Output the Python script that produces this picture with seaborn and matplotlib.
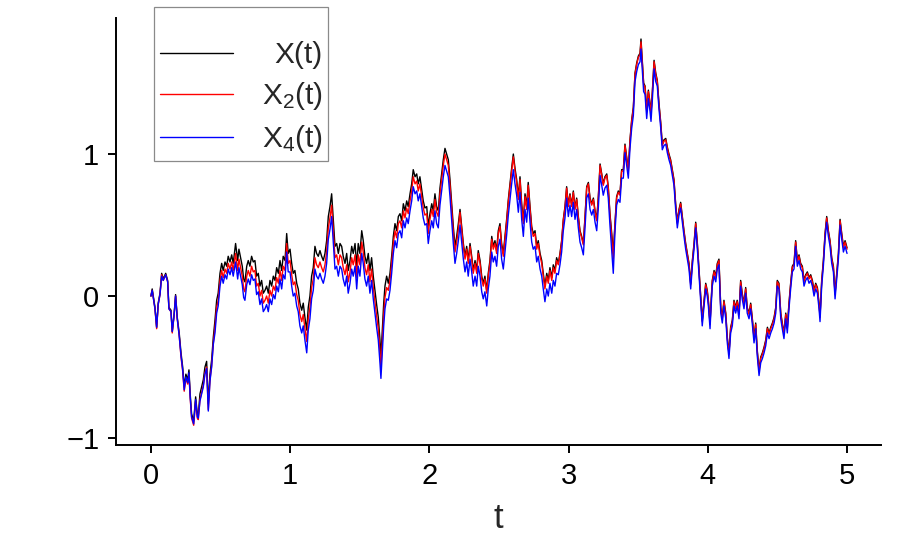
import matplotlib
matplotlib.use("Agg")
import matplotlib.pyplot as plt
import pandas as pd
import seaborn as sns

# ---------------- data ----------------
t = [
    0.000, 0.009, 0.029, 0.041, 0.052, 0.065, 0.077, 0.088, 0.106, 0.120, 0.129, 0.144, 0.153, 0.167, 0.177, 0.189,
    0.203, 0.216, 0.228, 0.239, 0.251, 0.264, 0.273, 0.282, 0.292, 0.307, 0.321, 0.333, 0.340, 0.352, 0.364, 0.376,
    0.388, 0.400, 0.412, 0.424, 0.436, 0.448,
    0.460, 0.472, 0.483, 0.496, 0.508, 0.519, 0.532, 0.544, 0.555, 0.568, 0.580, 0.591,
    0.608, 0.623, 0.632, 0.644, 0.656, 0.666, 0.675, 0.688, 0.699, 0.711, 0.723, 0.735, 0.747, 0.759, 0.771, 0.783,
    0.795, 0.807, 0.819, 0.831, 0.843, 0.855, 0.867, 0.879, 0.891, 0.903, 0.915, 0.927, 0.939, 0.950, 0.963, 0.975, 0.986,
    0.999, 1.011, 1.022, 1.034, 1.047, 1.058, 1.070, 1.083, 1.094, 1.106, 1.119, 1.130, 1.142, 1.154, 1.166, 1.178,
    1.190, 1.202, 1.214, 1.226, 1.238, 1.250, 1.262, 1.274, 1.286,
    1.298, 1.310, 1.322, 1.334, 1.346, 1.358, 1.370, 1.381, 1.394, 1.406, 1.417, 1.430, 1.442, 1.453, 1.466, 1.478,
    1.489, 1.501, 1.514, 1.525, 1.537, 1.549, 1.561, 1.573, 1.585, 1.597, 1.609, 1.621, 1.633, 1.645, 1.652, 1.662,
    1.672, 1.681, 1.693,
    1.705, 1.717, 1.729, 1.741, 1.753, 1.765, 1.777, 1.789, 1.801, 1.813, 1.825, 1.837, 1.848, 1.861, 1.873, 1.884,
    1.897, 1.909, 1.920, 1.932, 1.945, 1.956, 1.968, 1.981, 1.992,
    2.004, 2.017, 2.028, 2.040, 2.052, 2.064, 2.076, 2.088, 2.100, 2.112, 2.124, 2.136, 2.148, 2.160, 2.172, 2.184,
    2.196, 2.208,
    2.220, 2.232, 2.244, 2.256, 2.268, 2.279, 2.292, 2.304, 2.315, 2.328, 2.340, 2.351, 2.364, 2.376, 2.387, 2.399,
    2.412, 2.423, 2.435, 2.448, 2.459, 2.471, 2.483, 2.495, 2.507, 2.519, 2.531, 2.543, 2.555, 2.567, 2.579, 2.591,
    2.603, 2.615, 2.627, 2.639, 2.651, 2.663, 2.675, 2.687, 2.699, 2.710, 2.723, 2.735, 2.746, 2.759, 2.771, 2.782,
    2.795, 2.807, 2.818, 2.830, 2.843, 2.854, 2.866, 2.879, 2.890, 2.902, 2.914,
    2.926, 2.938, 2.950, 2.962, 2.974, 2.986, 2.998, 3.010, 3.022, 3.034, 3.046, 3.058, 3.070, 3.082, 3.094, 3.106,
    3.118, 3.130, 3.142, 3.154, 3.166, 3.178, 3.190, 3.202, 3.213, 3.226, 3.238, 3.249, 3.261, 3.274, 3.285, 3.297,
    3.310, 3.321,
    3.333, 3.345, 3.357, 3.369, 3.381, 3.393, 3.405, 3.417, 3.429, 3.441, 3.453, 3.465, 3.477, 3.489, 3.501, 3.513,
    3.520, 3.530, 3.539, 3.549, 3.561, 3.573, 3.585, 3.592, 3.601, 3.614, 3.626,
    3.637, 3.649, 3.662, 3.673, 3.685, 3.698, 3.709, 3.721, 3.733, 3.745, 3.757, 3.769, 3.781, 3.793, 3.805, 3.817,
    3.829, 3.841, 3.853, 3.865, 3.877, 3.889, 3.901, 3.913, 3.925, 3.937, 3.949, 3.960, 3.973, 3.985, 3.996, 4.004,
    4.016, 4.023, 4.032, 4.045, 4.057, 4.068, 4.080, 4.093, 4.104, 4.116, 4.129, 4.140, 4.152, 4.164, 4.176, 4.188,
    4.200, 4.211, 4.224, 4.236, 4.247, 4.260, 4.272, 4.283, 4.296, 4.308, 4.319, 4.332, 4.344, 4.355, 4.368, 4.380,
    4.392, 4.404, 4.416, 4.428, 4.440, 4.452, 4.464, 4.476, 4.488, 4.499, 4.511, 4.524, 4.535, 4.547, 4.560, 4.571,
    4.583, 4.595, 4.607, 4.619, 4.631, 4.643, 4.655, 4.667, 4.679, 4.691, 4.703, 4.715, 4.727, 4.739, 4.751, 4.763,
    4.775, 4.787, 4.799, 4.806, 4.818, 4.830, 4.842, 4.854, 4.866, 4.878, 4.890, 4.902, 4.914, 4.926, 4.938, 4.950,
    4.962, 4.974, 4.986, 5.000,
]

x = [
    0.00, 0.05, -0.08, -0.22, -0.05, 0.02, 0.16, 0.12, 0.16, 0.11, -0.08, -0.10, -0.25, -0.12, 0.01, -0.15,
    -0.26, -0.40, -0.50, -0.64, -0.55, -0.59, -0.52, -0.69, -0.83, -0.88, -0.71, -0.83, -0.84, -0.69, -0.64, -0.59,
    -0.50, -0.46, -0.76, -0.55, -0.45, -0.29,
    -0.17, -0.03, 0.02, 0.16, 0.23, 0.18, 0.24, 0.21, 0.28, 0.24, 0.29, 0.23,
    0.37, 0.25, 0.33, 0.27, 0.21, 0.12, 0.10, 0.21, 0.25, 0.21, 0.28, 0.24, 0.25, 0.14, 0.16, 0.07,
    0.11, 0.02, 0.04, 0.07, 0.02, 0.11, 0.07, 0.14, 0.11, 0.20, 0.16, 0.25, 0.18, 0.28, 0.25, 0.44, 0.30,
    0.33, 0.23, 0.16, 0.18, 0.09, 0.05, -0.05, -0.10, -0.05, -0.15, -0.24, -0.08, 0.00, 0.14, 0.20, 0.35,
    0.30, 0.28, 0.32, 0.28, 0.25, 0.30, 0.39, 0.56, 0.63,
    0.72, 0.53, 0.35, 0.37, 0.30, 0.37, 0.35, 0.28, 0.23, 0.30, 0.18, 0.25, 0.35, 0.30, 0.37, 0.21,
    0.37, 0.30, 0.46, 0.39, 0.28, 0.23, 0.30, 0.18, 0.27, 0.14, 0.04, -0.06, -0.15, -0.31, -0.43, -0.24,
    -0.05, 0.07, 0.14,
    0.09, 0.16, 0.28, 0.42, 0.51, 0.46, 0.56, 0.58, 0.53, 0.65, 0.60, 0.67, 0.63, 0.72, 0.79, 0.89,
    0.84, 0.86, 0.79, 0.84, 0.75, 0.67, 0.62, 0.63, 0.49,
    0.58, 0.65, 0.60, 0.72, 0.63, 0.60, 0.76, 0.86, 0.96, 1.04, 1.00, 0.96, 0.82, 0.65, 0.49, 0.35,
    0.42, 0.51,
    0.61, 0.49, 0.37, 0.28, 0.35, 0.25, 0.37, 0.28, 0.18, 0.25, 0.18, 0.32, 0.25, 0.14, 0.09, 0.14,
    0.04, 0.16, 0.25, 0.42, 0.35, 0.39, 0.32, 0.46, 0.51, 0.37, 0.30, 0.42, 0.54, 0.68, 0.79, 0.90,
    1.00, 0.90, 0.82, 0.70, 0.84, 0.65, 0.53, 0.72, 0.63, 0.80, 0.63, 0.49, 0.44, 0.46, 0.35, 0.39,
    0.30, 0.25, 0.16, 0.07, 0.16, 0.11, 0.20, 0.13, 0.22, 0.18, 0.27,
    0.23, 0.30, 0.39, 0.54, 0.63, 0.77, 0.64, 0.72, 0.64, 0.74, 0.62, 0.69, 0.56, 0.46, 0.42, 0.37,
    0.56, 0.77, 0.80, 0.69, 0.65, 0.69, 0.60, 0.54, 0.69, 0.93, 0.86, 0.79, 0.84, 0.86, 0.77, 0.58,
    0.44, 0.30,
    0.51, 0.70, 0.74, 0.72, 0.89, 0.89, 1.07, 0.98, 0.89, 1.10, 1.24, 1.33, 1.57, 1.64, 1.69, 1.71,
    1.81, 1.64, 1.50, 1.48, 1.31, 1.45, 1.36, 1.29, 1.43, 1.66, 1.57,
    1.52, 1.36, 1.22, 1.07, 1.10, 1.11, 1.05, 1.00, 0.96, 0.89, 0.82, 0.65, 0.52, 0.61, 0.66, 0.56,
    0.46, 0.37, 0.30, 0.23, 0.09, 0.25, 0.37, 0.52, 0.37, 0.18, 0.00, -0.17, -0.03, 0.09, 0.04, -0.03,
    -0.19, -0.05, 0.11, 0.18, 0.14, 0.23, 0.26, -0.08, -0.15, -0.03, -0.12, -0.29, -0.40, -0.22, -0.17, -0.03,
    -0.08, -0.03, -0.12, 0.11, 0.02, -0.05, 0.06, -0.08, -0.12, -0.05, -0.15, -0.29, -0.19, -0.38, -0.52, -0.43,
    -0.40, -0.36, -0.31, -0.22, -0.26, -0.22, -0.19, -0.15, -0.08, 0.11, 0.09, -0.12, -0.19, -0.26, -0.12, -0.22,
    -0.05, 0.09, 0.21, 0.23, 0.39, 0.25, 0.29, 0.23, 0.21, 0.11, 0.15, 0.17, 0.13, 0.15, 0.11, 0.04,
    0.09, 0.06, -0.05, -0.14, 0.11, 0.25, 0.44, 0.56, 0.46, 0.39, 0.27, 0.21, 0.02, 0.16, 0.30, 0.54,
    0.44, 0.35, 0.39, 0.34,
]

x2 = [
    0.00, 0.04, -0.09, -0.23, -0.06, 0.01, 0.15, 0.11, 0.15, 0.10, -0.09, -0.11, -0.26, -0.13, 0.00, -0.16,
    -0.28, -0.43, -0.53, -0.67, -0.58, -0.62, -0.55, -0.72, -0.86, -0.91, -0.74, -0.86, -0.87, -0.73, -0.68, -0.63,
    -0.54, -0.50, -0.80, -0.59, -0.49, -0.33,
    -0.22, -0.08, -0.03, 0.11, 0.18, 0.13, 0.19, 0.16, 0.23, 0.19, 0.24, 0.18,
    0.30, 0.18, 0.26, 0.20, 0.14, 0.05, 0.03, 0.14, 0.18, 0.14, 0.21, 0.17, 0.18, 0.07, 0.09, 0.00,
    0.04, -0.05, -0.03, 0.00, -0.05, 0.04, 0.00, 0.07, 0.04, 0.13, 0.09, 0.18, 0.11, 0.21, 0.18, 0.37, 0.23,
    0.25, 0.15, 0.08, 0.10, 0.01, -0.03, -0.13, -0.18, -0.13, -0.23, -0.32, -0.16, -0.08, 0.06, 0.12, 0.27,
    0.22, 0.20, 0.24, 0.20, 0.17, 0.22, 0.31, 0.48, 0.55,
    0.64, 0.45, 0.27, 0.29, 0.22, 0.29, 0.27, 0.20, 0.15, 0.22, 0.10, 0.17, 0.27, 0.22, 0.29, 0.13,
    0.29, 0.22, 0.38, 0.31, 0.20, 0.15, 0.22, 0.10, 0.19, 0.06, -0.04, -0.14, -0.23, -0.39, -0.51, -0.32,
    -0.13, -0.01, 0.06,
    0.04, 0.11, 0.23, 0.37, 0.46, 0.41, 0.51, 0.53, 0.48, 0.60, 0.55, 0.62, 0.58, 0.67, 0.74, 0.84,
    0.79, 0.81, 0.74, 0.79, 0.70, 0.62, 0.57, 0.58, 0.44,
    0.54, 0.61, 0.56, 0.68, 0.59, 0.56, 0.72, 0.82, 0.92, 1.00, 0.96, 0.92, 0.78, 0.61, 0.45, 0.31,
    0.38, 0.47,
    0.59, 0.47, 0.35, 0.26, 0.33, 0.23, 0.35, 0.26, 0.16, 0.23, 0.16, 0.30, 0.23, 0.12, 0.07, 0.12,
    0.02, 0.14, 0.23, 0.40, 0.33, 0.37, 0.30, 0.44, 0.49, 0.35, 0.28, 0.40, 0.52, 0.66, 0.77, 0.88,
    0.98, 0.88, 0.80, 0.68, 0.82, 0.63, 0.51, 0.70, 0.61, 0.78, 0.61, 0.47, 0.42, 0.44, 0.33, 0.37,
    0.28, 0.23, 0.14, 0.05, 0.14, 0.09, 0.18, 0.11, 0.20, 0.16, 0.25,
    0.22, 0.29, 0.38, 0.53, 0.62, 0.76, 0.63, 0.71, 0.63, 0.73, 0.61, 0.68, 0.55, 0.45, 0.41, 0.36,
    0.55, 0.76, 0.79, 0.68, 0.64, 0.68, 0.59, 0.53, 0.68, 0.92, 0.85, 0.78, 0.83, 0.85, 0.76, 0.57,
    0.41, 0.26,
    0.50, 0.69, 0.73, 0.71, 0.88, 0.88, 1.06, 0.97, 0.88, 1.09, 1.23, 1.32, 1.56, 1.63, 1.68, 1.70,
    1.79, 1.63, 1.49, 1.47, 1.30, 1.44, 1.35, 1.28, 1.42, 1.65, 1.56,
    1.51, 1.35, 1.21, 1.06, 1.09, 1.10, 1.04, 0.99, 0.95, 0.88, 0.81, 0.64, 0.51, 0.60, 0.65, 0.55,
    0.45, 0.36, 0.29, 0.22, 0.08, 0.24, 0.36, 0.51, 0.36, 0.17, -0.01, -0.18, -0.04, 0.08, 0.03, -0.04,
    -0.20, -0.06, 0.10, 0.17, 0.13, 0.22, 0.25, -0.09, -0.16, -0.04, -0.13, -0.30, -0.41, -0.23, -0.18, -0.04,
    -0.09, -0.04, -0.13, 0.10, 0.01, -0.06, 0.05, -0.09, -0.13, -0.06, -0.16, -0.30, -0.20, -0.39, -0.53, -0.44,
    -0.41, -0.37, -0.32, -0.23, -0.27, -0.23, -0.20, -0.16, -0.09, 0.10, 0.08, -0.13, -0.20, -0.27, -0.13, -0.23,
    -0.06, 0.08, 0.20, 0.22, 0.38, 0.24, 0.28, 0.22, 0.20, 0.10, 0.14, 0.16, 0.12, 0.14, 0.10, 0.03,
    0.08, 0.05, -0.06, -0.15, 0.10, 0.24, 0.43, 0.55, 0.45, 0.38, 0.26, 0.20, 0.01, 0.15, 0.29, 0.53,
    0.43, 0.34, 0.38, 0.33,
]

x4 = [
    0.00, 0.04, -0.09, -0.22, -0.06, 0.01, 0.14, 0.11, 0.15, 0.10, -0.09, -0.11, -0.25, -0.13, 0.00, -0.16,
    -0.28, -0.42, -0.52, -0.66, -0.57, -0.61, -0.54, -0.71, -0.85, -0.90, -0.73, -0.85, -0.86, -0.74, -0.69, -0.64,
    -0.55, -0.51, -0.81, -0.60, -0.50, -0.34,
    -0.26, -0.12, -0.07, 0.07, 0.14, 0.09, 0.15, 0.12, 0.19, 0.15, 0.20, 0.14,
    0.24, 0.12, 0.20, 0.14, 0.08, -0.01, -0.03, 0.08, 0.12, 0.08, 0.15, 0.11, 0.12, 0.01, 0.03, -0.06,
    -0.02, -0.11, -0.09, -0.06, -0.11, -0.02, -0.06, 0.01, -0.02, 0.07, 0.03, 0.12, 0.05, 0.15, 0.12, 0.31, 0.17,
    0.17, 0.07, 0.00, 0.02, -0.07, -0.11, -0.21, -0.26, -0.21, -0.31, -0.40, -0.24, -0.16, -0.02, 0.04, 0.19,
    0.14, 0.12, 0.16, 0.12, 0.09, 0.14, 0.23, 0.40, 0.47,
    0.56, 0.37, 0.19, 0.21, 0.14, 0.21, 0.19, 0.12, 0.07, 0.14, 0.02, 0.09, 0.19, 0.14, 0.21, 0.05,
    0.21, 0.14, 0.30, 0.23, 0.12, 0.07, 0.14, 0.02, 0.11, -0.02, -0.12, -0.22, -0.31, -0.47, -0.58, -0.40,
    -0.21, -0.09, -0.02,
    -0.03, 0.04, 0.16, 0.30, 0.39, 0.34, 0.44, 0.46, 0.41, 0.53, 0.48, 0.55, 0.51, 0.60, 0.67, 0.77,
    0.72, 0.74, 0.67, 0.72, 0.63, 0.55, 0.50, 0.51, 0.37,
    0.46, 0.53, 0.48, 0.60, 0.51, 0.48, 0.64, 0.74, 0.84, 0.92, 0.88, 0.84, 0.70, 0.53, 0.37, 0.23,
    0.30, 0.39,
    0.50, 0.38, 0.26, 0.17, 0.24, 0.14, 0.26, 0.17, 0.07, 0.14, 0.07, 0.21, 0.14, 0.03, -0.02, 0.03,
    -0.07, 0.05, 0.14, 0.31, 0.24, 0.28, 0.21, 0.35, 0.40, 0.26, 0.19, 0.31, 0.43, 0.57, 0.68, 0.79,
    0.89, 0.79, 0.71, 0.59, 0.73, 0.54, 0.42, 0.61, 0.52, 0.69, 0.52, 0.38, 0.33, 0.35, 0.24, 0.28,
    0.19, 0.14, 0.05, -0.04, 0.05, 0.00, 0.09, 0.02, 0.11, 0.07, 0.16,
    0.15, 0.22, 0.31, 0.46, 0.55, 0.69, 0.56, 0.64, 0.56, 0.66, 0.54, 0.61, 0.48, 0.38, 0.34, 0.29,
    0.48, 0.69, 0.72, 0.61, 0.57, 0.61, 0.52, 0.46, 0.61, 0.85, 0.78, 0.71, 0.76, 0.78, 0.69, 0.50,
    0.32, 0.16,
    0.45, 0.64, 0.68, 0.66, 0.83, 0.83, 1.01, 0.92, 0.83, 1.04, 1.18, 1.27, 1.51, 1.58, 1.63, 1.65,
    1.74, 1.58, 1.44, 1.42, 1.25, 1.39, 1.30, 1.23, 1.37, 1.60, 1.51,
    1.48, 1.32, 1.18, 1.03, 1.06, 1.07, 1.01, 0.96, 0.92, 0.85, 0.78, 0.61, 0.48, 0.57, 0.62, 0.52,
    0.42, 0.33, 0.26, 0.19, 0.05, 0.21, 0.33, 0.48, 0.33, 0.14, -0.04, -0.21, -0.07, 0.05, 0.00, -0.07,
    -0.23, -0.09, 0.07, 0.14, 0.10, 0.19, 0.22, -0.12, -0.19, -0.07, -0.16, -0.33, -0.44, -0.26, -0.21, -0.07,
    -0.12, -0.07, -0.16, 0.07, -0.02, -0.09, 0.02, -0.12, -0.16, -0.09, -0.19, -0.33, -0.23, -0.42, -0.56, -0.47,
    -0.44, -0.40, -0.35, -0.26, -0.30, -0.26, -0.23, -0.19, -0.12, 0.07, 0.05, -0.16, -0.23, -0.30, -0.16, -0.26,
    -0.09, 0.05, 0.17, 0.19, 0.35, 0.21, 0.25, 0.19, 0.17, 0.07, 0.11, 0.13, 0.09, 0.11, 0.07, 0.00,
    0.05, 0.02, -0.09, -0.18, 0.07, 0.21, 0.40, 0.52, 0.42, 0.35, 0.23, 0.17, -0.02, 0.12, 0.26, 0.50,
    0.40, 0.31, 0.35, 0.30,
]

series_names = ["X", "X2", "X4"]
legend_labels = ["X(t)", r"X$_\mathregular{2}$(t)", r"X$_\mathregular{4}$(t)"]
series_colors = ["#000000", "#ff0000", "#0000ff"]
x_ticks = [0, 1, 2, 3, 4, 5]
y_ticks = [-1, 0, 1]

assert len(t) == len(x) == len(x2) == len(x4), (len(t), len(x), len(x2), len(x4))

# ---------------- styling ----------------
sns.set_theme(style="ticks")
plt.rcParams["font.family"] = ["Liberation Sans", "DejaVu Sans"]
plt.rcParams["mathtext.fontset"] = "custom"
plt.rcParams["mathtext.rm"] = "Liberation Sans"
plt.rcParams["mathtext.it"] = "Liberation Sans:italic"
plt.rcParams["axes.unicode_minus"] = True

df = pd.DataFrame({
    "t": t * 3,
    "value": x + x2 + x4,
    "series": [series_names[0]] * len(t) + [series_names[1]] * len(t) + [series_names[2]] * len(t),
})

fig = plt.figure(figsize=(9.0, 5.57), dpi=100)
ax = fig.add_axes([116 / 900, 1 - 445 / 557, (881 - 116) / 900, (445 - 18) / 557])

sns.lineplot(
    data=df, x="t", y="value", hue="series", hue_order=series_names,
    palette=dict(zip(series_names, series_colors)),
    sort=False, estimator=None, linewidth=1.0, legend=False, ax=ax,
)

ax.set_xlim(-0.251, 5.244)
ax.set_ylim(-1.049, 1.958)
ax.set_xticks(x_ticks)
ax.set_yticks(y_ticks)
ax.set_xlabel("t", fontsize=25, labelpad=9)
ax.set_ylabel("")
ax.tick_params(axis="both", labelsize=21, length=6, width=1.4, pad=6, colors="black", direction="out")
sns.despine(ax=ax)
for side in ("left", "bottom"):
    ax.spines[side].set_linewidth(1.4)
    ax.spines[side].set_color("black")

leg = ax.legend(
    ax.lines[:3], legend_labels,
    loc="upper left", bbox_to_anchor=(154 / 900, 1 - 7 / 557), bbox_transform=fig.transFigure,
    borderaxespad=0, fontsize=21.5, frameon=True, fancybox=False, framealpha=1,
    edgecolor="#8a8a8a", handlelength=2.45, handletextpad=0.95, labelspacing=0.37,
    borderpad=0.2, title=" ", title_fontsize=13,
)
leg.get_frame().set_linewidth(0.9)

# right-align the legend texts (as in the reference)
fig.canvas.draw()
renderer = fig.canvas.get_renderer()
texts = leg.get_texts()
widths = [tx.get_window_extent(renderer).width for tx in texts]
maxw = max(widths)
column = leg._legend_handle_box.get_children()[0]
for row, w in zip(column.get_children(), widths):
    row.sep += (maxw - w) * 72.0 / fig.dpi

fig.savefig("out.png", dpi=100)
